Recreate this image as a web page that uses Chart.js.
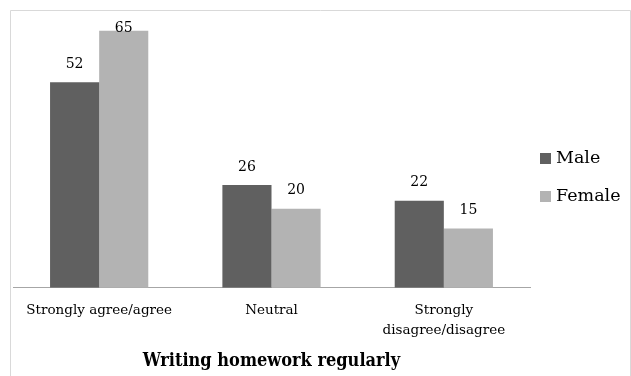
<!DOCTYPE html>
<html>
<head>
<meta charset="utf-8">
<script src="https://cdn.jsdelivr.net/npm/chart.js@4/dist/chart.umd.min.js"></script>
<style>
  html, body { margin: 0; padding: 0; background: #fff; }
  canvas { display: block; }
</style>
</head>
<body>
<canvas id="chart" width="631" height="376"></canvas>
<script>
// Survey responses on writing homework regularly, by gender
const categories = [['Strongly agree/agree'], ['Neutral'], ['Strongly', 'disagree/disagree']];
const seriesNames = ['Male', 'Female'];
const maleValues = [52, 26, 22];
const femaleValues = [65, 20, 15];
const seriesColors = ['#606060', '#b3b3b3'];
const chartTitle = 'Writing homework regularly';

const FONT = '"DejaVu Serif", serif';
const TITLE_FONT = '"DejaVu Serif Condensed", "DejaVu Serif", serif';

// Light gray frame around the whole figure
const framePlugin = {
  id: 'frame',
  beforeDraw(chart) {
    const ctx = chart.ctx;
    ctx.save();
    ctx.fillStyle = '#fff';
    ctx.fillRect(0, 0, chart.width, chart.height);
    ctx.strokeStyle = '#d9d9d9';
    ctx.lineWidth = 1;
    ctx.beginPath();
    ctx.moveTo(10.5, chart.height + 5);
    ctx.lineTo(10.5, 10.5);
    ctx.lineTo(chart.width - 0.5, 10.5);
    ctx.lineTo(chart.width - 0.5, chart.height + 5);
    ctx.stroke();
    ctx.restore();
  }
};

// Value labels above each bar
const valueLabels = {
  id: 'valueLabels',
  afterDatasetsDraw(chart) {
    const ctx = chart.ctx;
    ctx.save();
    ctx.font = '14px ' + FONT;
    ctx.fillStyle = '#000';
    ctx.textAlign = 'center';
    ctx.textBaseline = 'middle';
    chart.data.datasets.forEach((ds, i) => {
      chart.getDatasetMeta(i).data.forEach((bar, j) => {
        const y = Math.max(bar.y - 18, chart.chartArea.top + 17);
        ctx.fillText(String(ds.data[j]), bar.x, y);
      });
    });
    ctx.restore();
  }
};

// Legend to the right of the plot
const sideLegend = {
  id: 'sideLegend',
  afterDraw(chart) {
    const ctx = chart.ctx;
    const x = chart.chartArea.right + 10;
    const y0 = 158.5;
    ctx.save();
    ctx.font = '17.5px ' + FONT;
    ctx.textBaseline = 'middle';
    ctx.textAlign = 'left';
    chart.data.datasets.forEach((ds, i) => {
      const y = y0 + i * 38;
      ctx.fillStyle = ds.backgroundColor;
      ctx.fillRect(x, y - 5.5, 11, 11);
      ctx.fillStyle = '#000';
      ctx.fillText(ds.label, x + 16, y);
    });
    ctx.restore();
  }
};

new Chart(document.getElementById('chart'), {
  type: 'bar',
  data: {
    labels: categories,
    datasets: [
      { label: seriesNames[0], data: maleValues, backgroundColor: seriesColors[0] },
      { label: seriesNames[1], data: femaleValues, backgroundColor: seriesColors[1] }
    ]
  },
  options: {
    responsive: false,
    devicePixelRatio: 1,
    animation: false,
    datasets: { bar: { barPercentage: 1, categoryPercentage: 0.57 } },
    layout: { padding: { left: 13, right: 101, top: 11, bottom: 4 } },
    scales: {
      x: {
        grid: { display: false, drawTicks: false },
        border: { display: true, color: '#a6a6a6', width: 1 },
        ticks: {
          color: '#000',
          padding: 13,
          maxRotation: 0,
          autoSkip: false,
          font: { family: FONT, size: 13.5, lineHeight: 1.45 }
        }
      },
      y: { display: false, min: 0, max: 70 }
    },
    plugins: {
      legend: { display: false },
      tooltip: { enabled: false },
      title: {
        display: true,
        text: chartTitle,
        position: 'bottom',
        fullSize: false,
        color: '#000',
        padding: { top: -3, bottom: 0 },
        font: { family: TITLE_FONT, size: 18, weight: 'bold', lineHeight: 1.23 }
      }
    }
  },
  plugins: [framePlugin, valueLabels, sideLegend]
});
</script>
</body>
</html>
